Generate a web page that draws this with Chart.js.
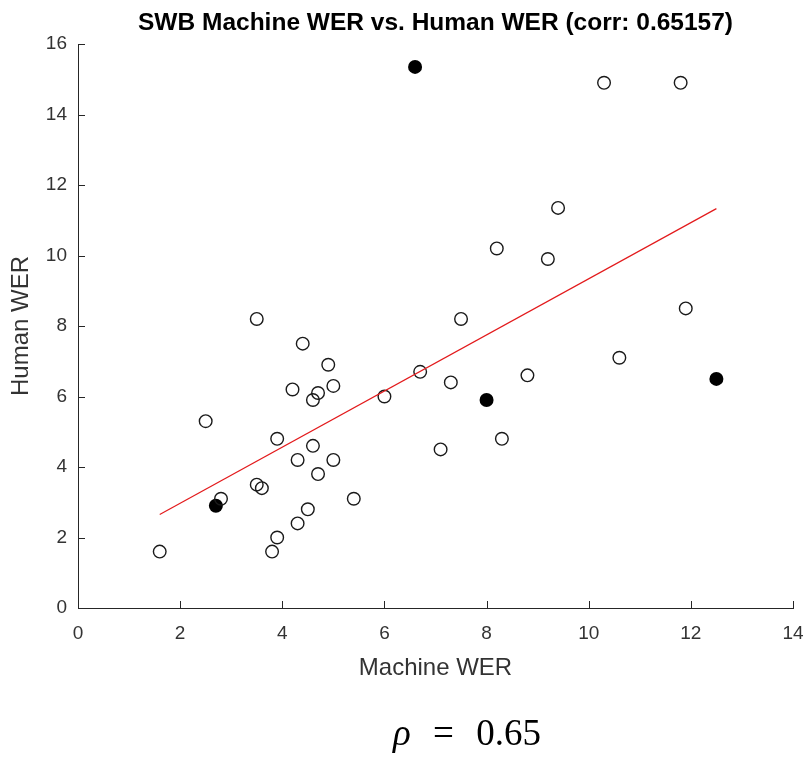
<!DOCTYPE html>
<html>
<head>
<meta charset="utf-8">
<script src="https://cdn.jsdelivr.net/npm/chart.js@4/dist/chart.umd.min.js"></script>
<style>
  html, body { margin: 0; padding: 0; background: #fff; }
  #wrap { position: relative; width: 808px; height: 757px; }
  #rho {
    position: absolute; left: 393px; top: 714px;
    font-family: "Liberation Serif", "DejaVu Serif", serif;
    font-size: 37px; line-height: 37px; color: #000;
    word-spacing: 13px; white-space: nowrap;
  }
</style>
</head>
<body>
<div id="wrap">
  <canvas id="chart" width="808" height="757"></canvas>
  <div id="rho"><i>ρ</i> = 0.65</div>
</div>
<script>
// open circles
const machineOpen = [1.6, 2.5, 2.8, 3.5, 3.5, 3.6, 3.9, 3.9, 3.8, 4.2, 4.3, 4.3, 4.4, 4.5, 4.6, 4.7, 4.6, 4.7,
  4.9, 5.0, 5.0, 5.4, 6.0, 6.7, 7.1, 7.3, 7.5, 8.2, 8.3, 8.8, 9.2, 9.4, 10.3, 10.6, 11.8, 11.9];
const humanOpen = [1.6, 5.3, 3.1, 8.2, 3.5, 3.4, 4.8, 2.0, 1.6, 6.2, 4.2, 2.4, 7.5, 2.8, 5.9, 6.1, 4.6, 3.8,
  6.9, 6.3, 4.2, 3.1, 6.0, 6.7, 4.5, 6.4, 8.2, 10.2, 4.8, 6.6, 9.9, 11.35, 14.9, 7.1, 14.9, 8.5];

// filled circles
const machineFilled = [2.7, 6.6, 8.0, 12.5];
const humanFilled = [2.9, 15.35, 5.9, 6.5];

// fitted line end points
const fitX = [1.6, 12.5];
const fitY = [2.65, 11.33];

const xTicks = [0, 2, 4, 6, 8, 10, 12, 14];
const yTicks = [0, 2, 4, 6, 8, 10, 12, 14, 16];

const toPoints = (xs, ys) => xs.map((x, i) => ({ x: x, y: ys[i] }));

const axisColor = '#262626';

// MATLAB style ticks pointing into the plot
const inwardTicks = {
  id: 'inwardTicks',
  afterDraw(chart) {
    const ctx = chart.ctx;
    const x = chart.scales.x, y = chart.scales.y;
    ctx.save();
    ctx.strokeStyle = axisColor;
    ctx.lineWidth = 1;
    ctx.beginPath();
    xTicks.forEach(v => {
      const px = Math.round(x.getPixelForValue(v)) + 0.5;
      ctx.moveTo(px, y.bottom);
      ctx.lineTo(px, y.bottom - 7);
    });
    yTicks.forEach(v => {
      const py = Math.round(y.getPixelForValue(v)) + 0.5;
      ctx.moveTo(x.left, py);
      ctx.lineTo(x.left + 7, py);
    });
    ctx.stroke();
    ctx.restore();
  }
};

new Chart(document.getElementById('chart'), {
  type: 'scatter',
  data: {
    datasets: [
      {
        type: 'line',
        data: toPoints(fitX, fitY),
        borderColor: '#e31a1c',
        borderWidth: 1.2,
        pointRadius: 0,
        fill: false
      },
      {
        data: toPoints(machineOpen, humanOpen),
        pointRadius: 6.3,
        borderWidth: 1.4,
        borderColor: '#1a1a1a',
        backgroundColor: 'rgba(0,0,0,0)'
      },
      {
        data: toPoints(machineFilled, humanFilled),
        pointRadius: 7,
        borderWidth: 0,
        borderColor: '#000',
        backgroundColor: '#000'
      }
    ]
  },
  options: {
    responsive: false,
    animation: false,
    events: [],
    layout: { padding: { top: 0, left: 0, right: 0, bottom: 0 } },
    plugins: {
      legend: { display: false },
      tooltip: { enabled: false },
      title: {
        display: true,
        fullSize: false,
        text: 'SWB Machine WER vs. Human WER (corr: 0.65157)',
        color: '#000',
        font: { family: 'Liberation Sans, Arial, sans-serif', size: 24.5, weight: 'bold' },
        padding: { top: 9, bottom: 5.6 }
      }
    },
    scales: {
      x: {
        type: 'linear',
        min: 0, max: 14,
        afterBuildTicks: s => { s.ticks = xTicks.map(v => ({ value: v })); },
        afterFit: s => { s.height = 149; s.paddingRight = 15; s.paddingLeft = 0; },
        grid: { display: false, drawTicks: false },
        border: { display: true, color: axisColor, width: 1 },
        ticks: {
          padding: 14,
          color: '#333',
          font: { family: 'Liberation Sans, Arial, sans-serif', size: 19 }
        },
        title: {
          display: true,
          text: 'Machine WER',
          color: '#333',
          font: { family: 'Liberation Sans, Arial, sans-serif', size: 24 },
          padding: { top: 0, bottom: 74.6 }
        }
      },
      y: {
        type: 'linear',
        min: 0, max: 16,
        afterBuildTicks: s => { s.ticks = yTicks.map(v => ({ value: v })); },
        afterFit: s => { s.width = 78; },
        grid: { display: false, drawTicks: false },
        border: { display: true, color: axisColor, width: 1 },
        ticks: {
          padding: 11,
          color: '#333',
          font: { family: 'Liberation Sans, Arial, sans-serif', size: 19 }
        },
        title: {
          display: true,
          text: 'Human WER',
          color: '#333',
          font: { family: 'Liberation Sans, Arial, sans-serif', size: 24 },
          padding: { top: 6.6, bottom: 0 }
        }
      }
    }
  },
  plugins: [inwardTicks]
});
</script>
</body>
</html>
